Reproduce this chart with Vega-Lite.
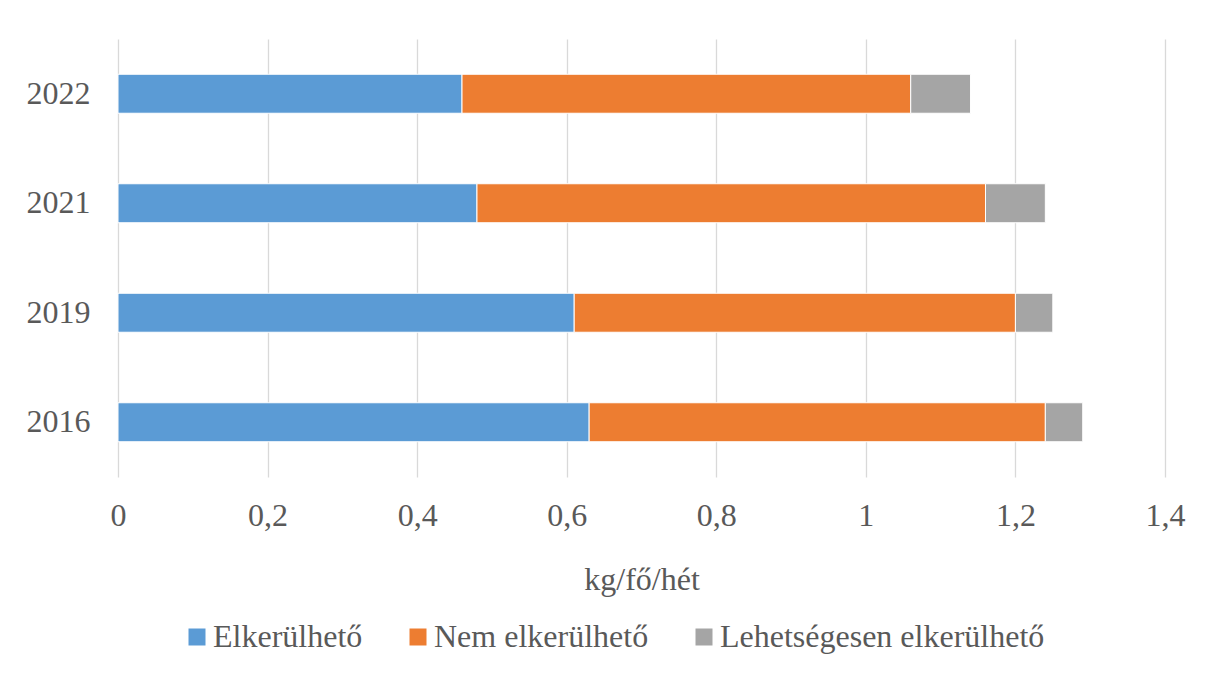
{
  "$schema": "https://vega.github.io/schema/vega-lite/v6.json",
  "width": 1047,
  "height": 438,
  "autosize": {"type": "none"},
  "padding": {"left": 118, "top": 39, "right": 47, "bottom": 198},
  "background": "#ffffff",
  "data": {
    "values": [
      {"ev": "2022", "kategoria": "Elkerülhető", "rend": 1, "ertek": 0.46},
      {"ev": "2022", "kategoria": "Nem elkerülhető", "rend": 2, "ertek": 0.60},
      {"ev": "2022", "kategoria": "Lehetségesen elkerülhető", "rend": 3, "ertek": 0.08},
      {"ev": "2021", "kategoria": "Elkerülhető", "rend": 1, "ertek": 0.48},
      {"ev": "2021", "kategoria": "Nem elkerülhető", "rend": 2, "ertek": 0.68},
      {"ev": "2021", "kategoria": "Lehetségesen elkerülhető", "rend": 3, "ertek": 0.08},
      {"ev": "2019", "kategoria": "Elkerülhető", "rend": 1, "ertek": 0.61},
      {"ev": "2019", "kategoria": "Nem elkerülhető", "rend": 2, "ertek": 0.59},
      {"ev": "2019", "kategoria": "Lehetségesen elkerülhető", "rend": 3, "ertek": 0.05},
      {"ev": "2016", "kategoria": "Elkerülhető", "rend": 1, "ertek": 0.63},
      {"ev": "2016", "kategoria": "Nem elkerülhető", "rend": 2, "ertek": 0.61},
      {"ev": "2016", "kategoria": "Lehetségesen elkerülhető", "rend": 3, "ertek": 0.05}
    ]
  },
  "mark": {"type": "bar", "stroke": "#ffffff", "strokeWidth": 1},
  "encoding": {
    "y": {
      "field": "ev",
      "type": "nominal",
      "sort": ["2022", "2021", "2019", "2016"],
      "scale": {"paddingInner": 0.644, "paddingOuter": 0.322},
      "axis": {
        "title": null,
        "domain": false,
        "ticks": false,
        "tickSize": 0,
        "grid": false,
        "labelPadding": 28,
        "labelFont": "Liberation Serif",
        "labelFontSize": 32,
        "labelColor": "#595959"
      }
    },
    "x": {
      "field": "ertek",
      "type": "quantitative",
      "stack": "zero",
      "scale": {"domain": [0, 1.4], "nice": false},
      "axis": {
        "title": "kg/fő/hét",
        "values": [0, 0.2, 0.4, 0.6, 0.8, 1, 1.2, 1.4],
        "labelExpr": "replace(format(datum.value, '~g'), '.', ',')",
        "labelFlush": false,
        "domain": false,
        "ticks": false,
        "tickSize": 0,
        "grid": true,
        "gridColor": "#d9d9d9",
        "gridWidth": 1.3,
        "labelPadding": 23,
        "labelFont": "Liberation Serif",
        "labelFontSize": 32,
        "labelColor": "#595959",
        "titleFont": "Liberation Serif",
        "titleFontSize": 32,
        "titleFontWeight": "normal",
        "titleColor": "#595959",
        "titlePadding": 33
      }
    },
    "color": {
      "field": "kategoria",
      "type": "nominal",
      "scale": {
        "domain": ["Elkerülhető", "Nem elkerülhető", "Lehetségesen elkerülhető"],
        "range": ["#5b9bd5", "#ed7d31", "#a5a5a5"]
      },
      "legend": {
        "title": null,
        "orient": "none",
        "direction": "horizontal",
        "legendX": 63,
        "legendY": 582,
        "symbolType": "square",
        "symbolSize": 289,
        "symbolStrokeWidth": 0,
        "labelOffset": 0,
        "columnPadding": 39,
        "labelFont": "Liberation Serif",
        "labelFontSize": 32,
        "labelColor": "#595959",
        "labelLimit": 600
      }
    },
    "order": {"field": "rend", "type": "quantitative"}
  },
  "config": {
    "view": {"stroke": null}
  }
}
